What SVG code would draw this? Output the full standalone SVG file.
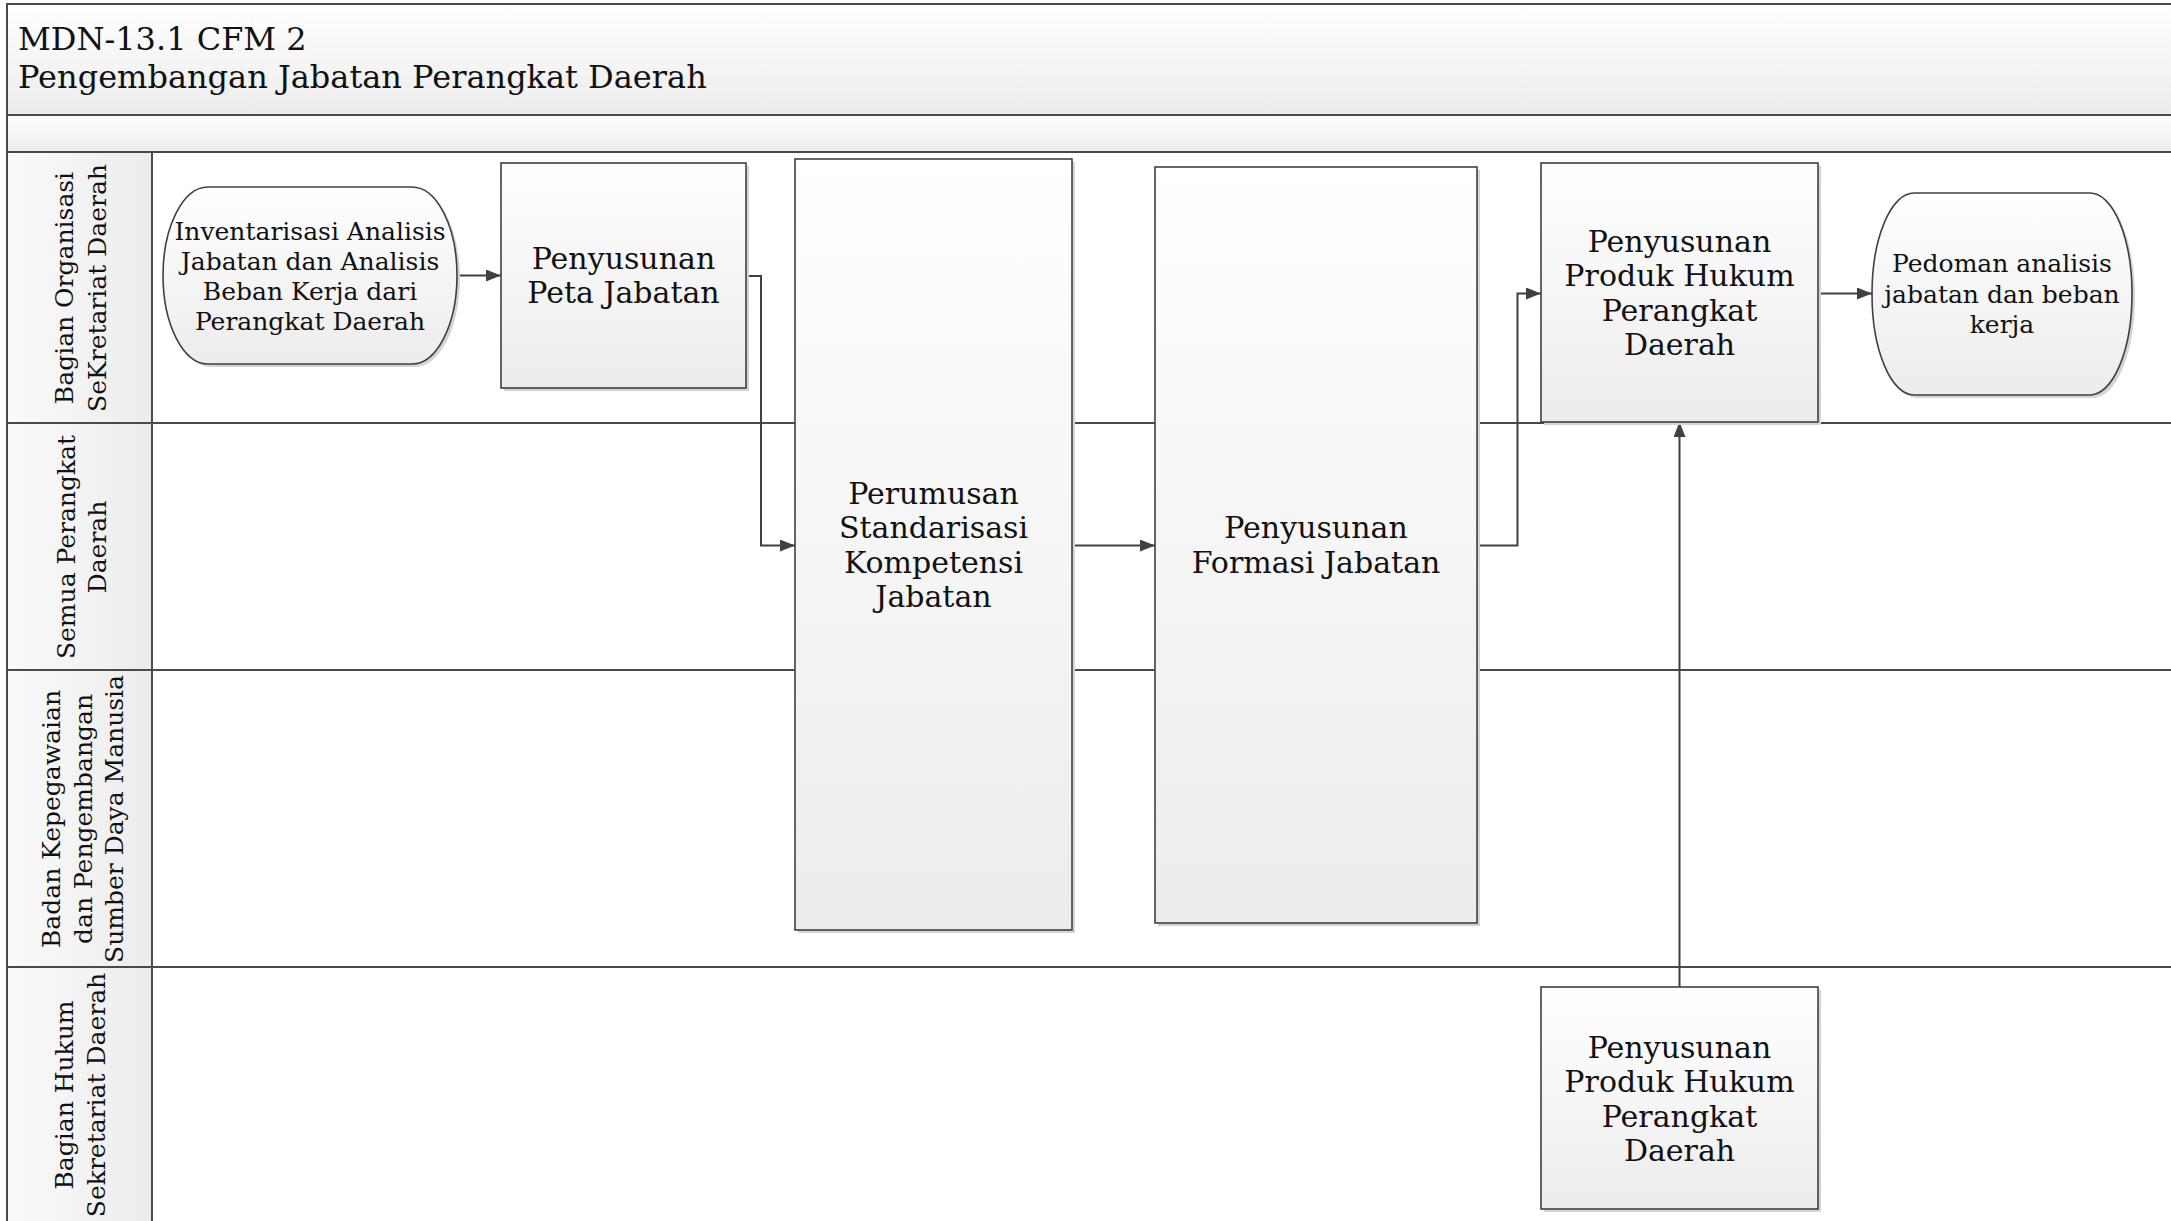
<svg xmlns="http://www.w3.org/2000/svg" width="2171" height="1221" viewBox="0 0 2171 1221">
<style>
text{font-family:"DejaVu Serif","Liberation Serif",serif;fill:#111;}
.title{font-size:32px;}
.box{font-size:30px;text-anchor:middle;}
.term{font-size:25px;text-anchor:middle;}
.lane{font-size:25px;text-anchor:middle;}
.frame{fill:none;stroke:#4a4a4a;stroke-width:2;}
.node{stroke:#404040;stroke-width:1.6;fill:url(#gBox);}
.shadow{fill:#d4d4d4;}
.conn{fill:none;stroke:#404040;stroke-width:2;marker-end:url(#arr);}
</style>
<defs>
<linearGradient id="gBox" x1="0" y1="0" x2="0" y2="1"><stop offset="0" stop-color="#ffffff"/><stop offset="1" stop-color="#ececec"/></linearGradient>
<linearGradient id="gHead" x1="0" y1="0" x2="0" y2="1"><stop offset="0" stop-color="#ffffff"/><stop offset="1" stop-color="#ececec"/></linearGradient>
<linearGradient id="gLane" x1="0" y1="0" x2="1" y2="0"><stop offset="0" stop-color="#fafafa"/><stop offset="1" stop-color="#ececec"/></linearGradient>
<marker id="arr" viewBox="0 0 15 12" refX="15" refY="6" markerWidth="15" markerHeight="12" markerUnits="userSpaceOnUse" orient="auto"><path d="M0,0 L15,6 L0,12 z" fill="#404040"/></marker>
</defs>

<g id="frame">
<rect x="7" y="4" width="2170" height="111" fill="url(#gHead)"/>
<rect x="7" y="115" width="2170" height="37" fill="url(#gHead)"/>
<rect x="7" y="152" width="145" height="271" fill="url(#gLane)"/>
<rect x="7" y="423" width="145" height="247" fill="url(#gLane)"/>
<rect x="7" y="670" width="145" height="297" fill="url(#gLane)"/>
<rect x="7" y="967" width="145" height="260" fill="url(#gLane)"/>
<path class="frame" d="M2171,4 H7 V1221 M7,115 H2171 M7,152 H2171 M152,152 V1221 M7,423 H2171 M7,670 H2171 M7,967 H2171"/>
<text class="title" x="18" y="50">MDN-13.1 CFM 2</text>
<text class="title" x="18" y="88">Pengembangan Jabatan Perangkat Daerah</text>
</g>

<g id="lanes">
<text class="lane" transform="translate(80,288) rotate(-90)"><tspan x="0" y="-7">Bagian Organisasi</tspan><tspan x="0" y="26">SeKretariat Daerah</tspan></text>
<text class="lane" transform="translate(80,547) rotate(-90)"><tspan x="0" y="-5.5">Semua Perangkat</tspan><tspan x="0" y="25.5">Daerah</tspan></text>
<text class="lane" transform="translate(80,819) rotate(-90)"><tspan x="0" y="-20">Badan Kepegawaian</tspan><tspan x="0" y="12">dan Pengembangan</tspan><tspan x="0" y="42.5">Sumber Daya Manusia</tspan></text>
<text class="lane" transform="translate(80,1095) rotate(-90)"><tspan x="0" y="-7">Bagian Hukum</tspan><tspan x="0" y="24.5">Sekretariat Daerah</tspan></text>
</g>

<g id="connectors">
<path class="conn" d="M457,275.5 H501"/>
<path class="conn" d="M746,276 H761 V545.5 H795"/>
<path class="conn" d="M1072,545.5 H1155"/>
<path class="conn" d="M1477,545.5 H1517.5 V293.5 H1541"/>
<path class="conn" d="M1818,293.5 H1872"/>
<path class="conn" d="M1679.5,987 V422"/>
</g>

<g id="n-start">
<rect class="shadow" x="166" y="190" width="294" height="177" rx="45" ry="88.5"/>
<rect class="node" x="163" y="187" width="294" height="177" rx="45" ry="88.5"/>
<text class="term"><tspan x="310" y="239.5">Inventarisasi Analisis</tspan><tspan x="310" y="269.5">Jabatan dan Analisis</tspan><tspan x="310" y="299.5">Beban Kerja dari</tspan><tspan x="310" y="329.5">Perangkat Daerah</tspan></text>
</g>

<g id="n-peta">
<rect class="shadow" x="504" y="166" width="245" height="225"/>
<rect class="node" x="501" y="163" width="245" height="225"/>
<text class="box"><tspan x="623.5" y="268.5">Penyusunan</tspan><tspan x="623.5" y="303">Peta Jabatan</tspan></text>
</g>

<g id="n-perumusan">
<rect class="shadow" x="798" y="162" width="277" height="771"/>
<rect class="node" x="795" y="159" width="277" height="771"/>
<text class="box"><tspan x="933.5" y="503.5">Perumusan</tspan><tspan x="933.5" y="538">Standarisasi</tspan><tspan x="933.5" y="572.5">Kompetensi</tspan><tspan x="933.5" y="607">Jabatan</tspan></text>
</g>

<g id="n-formasi">
<rect class="shadow" x="1158" y="170" width="322" height="756"/>
<rect class="node" x="1155" y="167" width="322" height="756"/>
<text class="box"><tspan x="1316" y="538">Penyusunan</tspan><tspan x="1316" y="572.5">Formasi Jabatan</tspan></text>
</g>

<g id="n-produk1">
<rect class="shadow" x="1544" y="166" width="277" height="259"/>
<rect class="node" x="1541" y="163" width="277" height="259"/>
<text class="box"><tspan x="1679.5" y="251.5">Penyusunan</tspan><tspan x="1679.5" y="286">Produk Hukum</tspan><tspan x="1679.5" y="320.5">Perangkat</tspan><tspan x="1679.5" y="355">Daerah</tspan></text>
</g>

<g id="n-pedoman">
<rect class="shadow" x="1875" y="196" width="260" height="202" rx="42" ry="101"/>
<rect class="node" x="1872" y="193" width="260" height="202" rx="42" ry="101"/>
<text class="term"><tspan x="2002" y="272">Pedoman analisis</tspan><tspan x="2002" y="302.5">jabatan dan beban</tspan><tspan x="2002" y="333">kerja</tspan></text>
</g>

<g id="n-produk2">
<rect class="shadow" x="1544" y="990" width="277" height="222"/>
<rect class="node" x="1541" y="987" width="277" height="222"/>
<text class="box"><tspan x="1679.5" y="1057.5">Penyusunan</tspan><tspan x="1679.5" y="1092">Produk Hukum</tspan><tspan x="1679.5" y="1126.5">Perangkat</tspan><tspan x="1679.5" y="1161">Daerah</tspan></text>
</g>
</svg>
